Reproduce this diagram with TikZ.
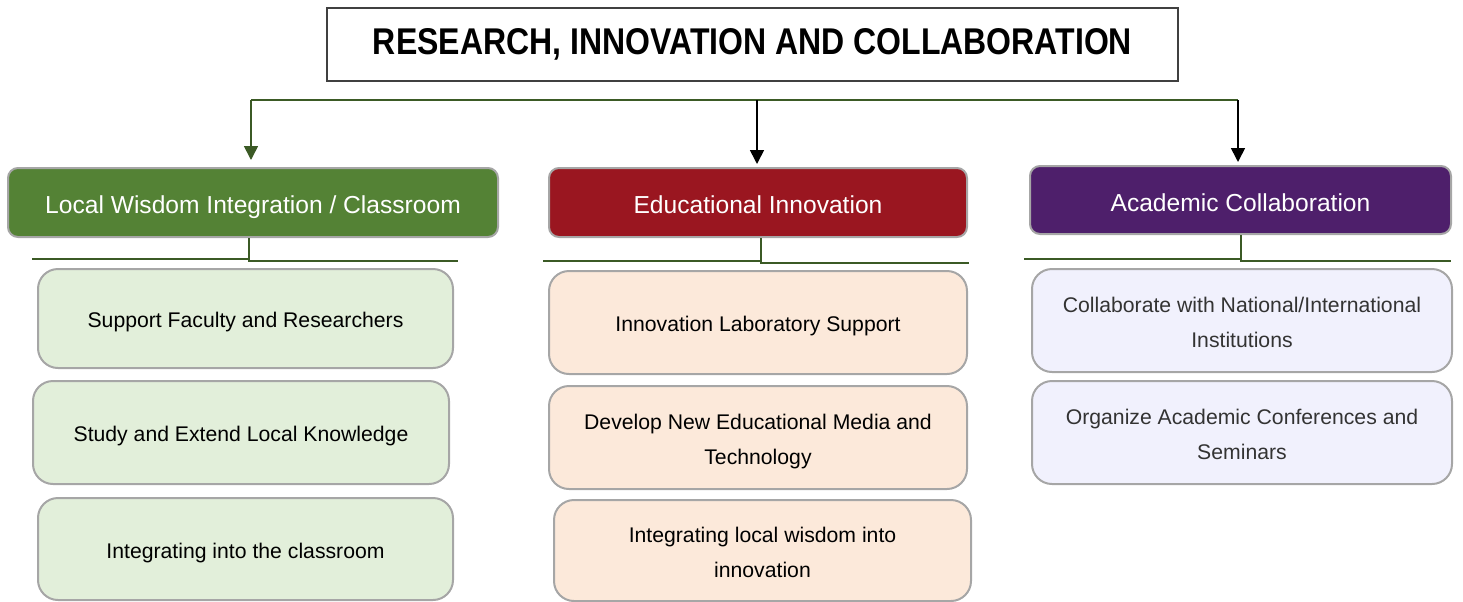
\documentclass[tikz,border=0pt]{standalone}
\usepackage{fontspec}
\setmainfont{Liberation Sans}
\usetikzlibrary{arrows.meta}
\definecolor{lwgreen}{HTML}{548235}
\definecolor{lwlight}{HTML}{E2EFDA}
\definecolor{eired}{HTML}{9A1620}
\definecolor{eilight}{HTML}{FCE9DA}
\definecolor{acpurple}{HTML}{4E1F6B}
\definecolor{aclight}{HTML}{F1F1FD}
\definecolor{linkgreen}{HTML}{3B5A25}
\definecolor{boxgray}{HTML}{A6A6A6}

\begin{document}
\begin{tikzpicture}[x=0.5pt,y=-0.5pt,
  head/.style={draw=boxgray,line width=1pt,rounded corners=5pt,text=white,minimum height=34.5pt,text height=11pt,text depth=0pt,font=\fontsize{12.3}{14}\selectfont},
  item/.style={draw=boxgray,line width=1pt,rounded corners=10pt,minimum height=51.5pt,align=center,text height=9pt,text depth=0pt,font=\fontsize{10.6}{17.5}\selectfont},
  item2/.style={item,text height=27pt,text depth=0pt},
  link/.style={linkgreen,line width=1pt},
  arr/.style={-{Triangle[length=7pt,width=7pt]},line width=0.8pt}]
\useasboundingbox (0,0) rectangle (1463,601);
\node(title) at (752.5,44.5)[draw=black!75,line width=0.6pt,minimum width=425.5pt,minimum height=36.5pt] {\resizebox{379.5pt}{13pt}{\bfseries RESEARCH, INNOVATION AND COLLABORATION}};
\node(lw) at (253,202.5)[head,fill=lwgreen,minimum width=245pt] {Local Wisdom Integration / Classroom};
\node(ei) at (758,202.5)[head,fill=eired,minimum width=209pt] {Educational Innovation};
\node(ac) at (1240.5,200)[head,fill=acpurple,minimum width=210.5pt,minimum height=34pt] {Academic Collaboration};
\node(lw1) at (245.5,318.5)[item,fill=lwlight,minimum width=207.5pt,minimum height=49.5pt] {Support Faculty and Researchers};
\node(lw2) at (241,432.5)[item,fill=lwlight,minimum width=208pt] {Study and Extend Local Knowledge};
\node(lw3) at (245.5,549)[item,fill=lwlight,minimum width=207.5pt,minimum height=51pt] {Integrating into the classroom};
\node(ei1) at (758,322.5)[item,fill=eilight,minimum width=209pt] {Innovation Laboratory Support};
\node(ei2) at (758,437.5)[item2,fill=eilight,minimum width=209pt] {Develop New Educational Media and\\Technology};
\node(ei3) at (762.5,550.5)[item2,fill=eilight,minimum width=208.5pt,minimum height=50.5pt] {Integrating local wisdom into\\innovation};
\node(ac1) at (1242,320.5)[item2,fill=aclight,text=black!80,minimum width=210pt] {Collaborate with National/International\\Institutions};
\node(ac2) at (1242,432.5)[item2,fill=aclight,text=black!80,minimum width=210pt] {Organize Academic Conferences and\\Seminars};
\coordinate(tl) at (251,100);
\coordinate(tm) at (757,100);
\coordinate(tr) at (1238,100);
\draw[link] (tl) -- (tr);
\draw[arr,linkgreen,shorten >=3.5pt] (tl) -- (tl |- lw.north);
\draw[arr,shorten >=1.5pt] (tm) -- (tm |- ei.north);
\draw[arr,shorten >=1.5pt] (tr) -- (tr |- ac.north);
%\draw[link] (title.south) -- (tm);
\coordinate(lws) at ([xshift=-2pt]lw.south);
\coordinate(lwa) at (32,259);
\coordinate(lwb) at (458,261);
\draw[link] (lws) -- (lws |- lwb) -- (lwb);
\draw[link] (lwa) -- (lws |- lwa);
\coordinate(eis) at ([xshift=1.5pt]ei.south);
\coordinate(eia) at (543,261);
\coordinate(eib) at (969,263);
\draw[link] (eis) -- (eis |- eib) -- (eib);
\draw[link] (eia) -- (eis |- eia);
\coordinate(aca) at (1024,259);
\coordinate(acb) at (1451,261);
\draw[link] (ac.south) -- (ac.south |- acb) -- (acb);
\draw[link] (aca) -- (ac.south |- aca);
\end{tikzpicture}
\end{document}
